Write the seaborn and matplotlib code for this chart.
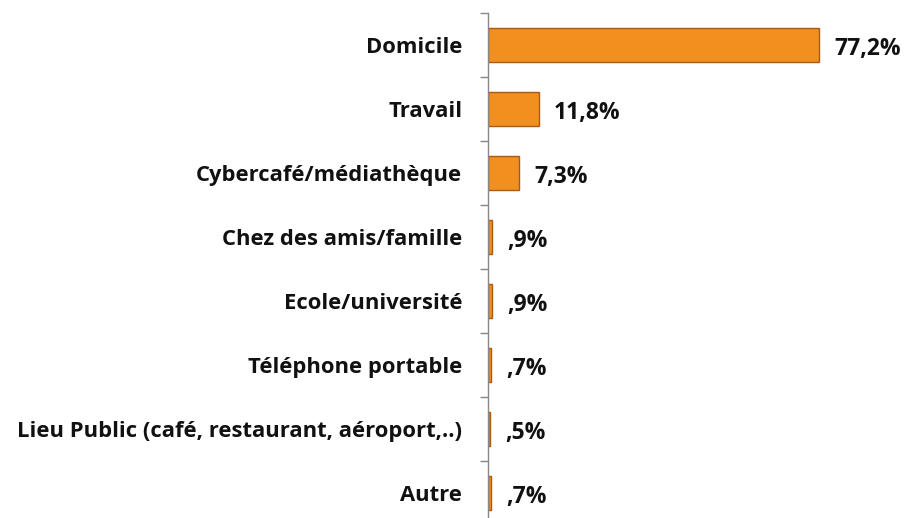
import matplotlib
matplotlib.use("Agg")
import matplotlib.pyplot as plt
import seaborn as sns
import pandas as pd
import numpy as np

categories = ["Domicile", "Travail", "Cybercafé/médiathèque", "Chez des amis/famille",
              "Ecole/université", "Téléphone portable",
              "Lieu Public (café, restaurant, aéroport,..)", "Autre"]
values = [77.2, 11.8, 7.3, 0.9, 0.9, 0.7, 0.5, 0.7]
value_labels = ["77,2%", "11,8%", "7,3%", ",9%", ",9%", ",7%", ",5%", ",7%"]

df = pd.DataFrame({"lieu": categories, "pct": values})

sns.set_theme(style="white")
plt.rcParams['font.family'] = ['Open Sans', 'DejaVu Sans']

W, H = 905, 518
fig = plt.figure(figsize=(W / 100, H / 100), dpi=100)
# axis line at x=488, category band from y=13 to ~525
ax = fig.add_axes([488 / W, (H - 525) / H, (W - 488) / W, (525 - 13) / H])

sns.barplot(data=df, y="lieu", x="pct", orient="h", ax=ax, width=0.52,
            color="#F1901F", edgecolor="#A95A16", linewidth=1.0, saturation=1)

ax.set_xlim(0, 97.2)
ax.set_ylim(len(categories) - 0.5, -0.5)
ax.set_xlabel("")
ax.set_ylabel("")
ax.set_xticks([])

for s in ["top", "right", "bottom"]:
    ax.spines[s].set_visible(False)
ax.spines["left"].set_color("#888888")
ax.spines["left"].set_linewidth(1.0)

ax.set_yticks(range(len(categories)))
ax.set_yticklabels(categories, fontsize=15.8, fontweight="bold", color="#111111")
ax.tick_params(axis="y", which="major", length=0, pad=18.5)
ax.set_yticks(np.arange(-0.5, len(categories), 1.0), minor=True)
ax.tick_params(axis="y", which="minor", length=6, width=1.0, color="#888888", left=True)

for i, (v, lab) in enumerate(zip(values, value_labels)):
    ax.text(v + 3.6, i + 0.06, lab, va="center", ha="left", fontsize=16.5,
            fontweight="bold", color="#111111")

fig.savefig("out.png", dpi=100)
